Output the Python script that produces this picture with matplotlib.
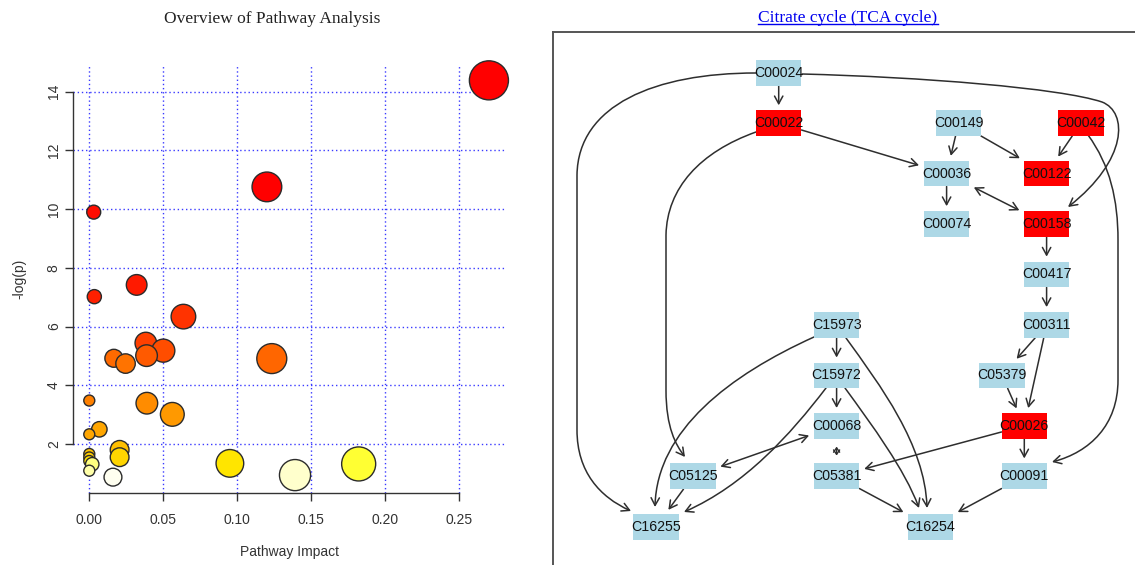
import numpy as np
import matplotlib
matplotlib.use("Agg")
import matplotlib.pyplot as plt
from matplotlib.path import Path
from matplotlib.patches import FancyArrowPatch, Rectangle
from matplotlib.lines import Line2D
from matplotlib.transforms import IdentityTransform

# ---------------- data: pathway overview (left panel) ----------------
impact = [0.270, 0.120, 0.003, 0.032, 0.0034, 0.0636, 0.0382, 0.050, 0.0387, 0.1233,
          0.0166, 0.0245, 0.000, 0.0389, 0.0561, 0.0068, 0.000, 0.0205, 0.000, 0.000,
          0.0205, 0.000, 0.095, 0.182, 0.002, 0.000, 0.139, 0.016]
neglogp = [14.39, 10.76, 9.90, 7.42, 7.02, 6.34, 5.44, 5.18, 5.01, 4.91,
           4.92, 4.74, 3.48, 3.39, 3.01, 2.50, 2.33, 1.80, 1.66, 1.54,
           1.55, 1.42, 1.34, 1.32, 1.31, 1.09, 0.94, 0.87]
x_ticks = [0.00, 0.05, 0.10, 0.15, 0.20, 0.25]
x_tick_labels = ["0.00", "0.05", "0.10", "0.15", "0.20", "0.25"]
y_ticks = [2, 4, 6, 8, 10, 12, 14]
y_tick_labels = ["2", "4", "6", "8", "10", "12", "14"]

# colour of each bubble (heat colours by p-value)
bubble_colors = ["#ff0000", "#ff0000", "#ff0d00", "#ff1a00", "#ff2000", "#ff3300", "#ff4000",
                 "#ff4d00", "#ff5a00", "#ff6600", "#ff6a00", "#ff7300", "#ff8000", "#ff8c00",
                 "#ff9900", "#ffa600", "#ffa600", "#ffbf00", "#ffc400", "#ffcc00", "#ffd500",
                 "#ffdd00", "#ffe500", "#ffff33", "#ffff80", "#ffffa8", "#ffffcc", "#fffff0"]

# ---------------- data: TCA cycle network (right panel) ----------------
nodes = ["C00024", "C00022", "C00149", "C00042", "C00036", "C00122", "C00074", "C00158",
         "C00417", "C15973", "C00311", "C15972", "C05379", "C00068", "C00026", "C05125",
         "C05381", "C00091", "C16255", "C16254"]
hit_nodes = ["C00022", "C00042", "C00122", "C00158", "C00026"]
straight_edges = [("C00024", "C00022"), ("C00022", "C00036"), ("C00149", "C00036"),
                  ("C00149", "C00122"), ("C00042", "C00122"), ("C00036", "C00074"),
                  ("C00158", "C00417"), ("C00417", "C00311"), ("C00311", "C05379"),
                  ("C00311", "C00026"), ("C05379", "C00026"), ("C00026", "C00091"),
                  ("C00026", "C05381"), ("C15973", "C15972"), ("C15972", "C00068"),
                  ("C05125", "C16255"), ("C05381", "C16254"), ("C00091", "C16254")]
double_edges = [("C00036", "C00158"), ("C00068", "C05125"), ("C00068", "C05381")]
curved_edges = [("C00024", "C16255"), ("C00022", "C05125"), ("C15973", "C16255"),
                ("C15973", "C16254"), ("C15972", "C16254"), ("C15972", "C16255"),
                ("C00042", "C00091"), ("C00024", "C00158")]

# ---------------- layout (graph drawing coordinates, pixel-like) ----------------
row = lambda k: 72.7 + 50.45 * k
layout = {
    "C00024": (778.7, row(0)), "C00022": (778.7, row(1)), "C00149": (958.6, row(1)),
    "C00042": (1081.0, row(1)), "C00036": (946.6, row(2)), "C00122": (1046.6, row(2)),
    "C00074": (946.6, row(3)), "C00158": (1046.6, row(3)), "C00417": (1046.6, row(4)),
    "C15973": (836.6, row(5)), "C00311": (1046.6, row(5)), "C15972": (836.6, row(6)),
    "C05379": (1001.9, row(6)), "C00068": (836.6, row(7)), "C00026": (1024.3, row(7)),
    "C05125": (692.9, row(8)), "C05381": (836.6, row(8)), "C00091": (1024.3, row(8)),
    "C16255": (656.0, row(9)), "C16254": (930.6, row(9)),
}
routes = {
    ("C00024", "C16255"): [(756, 73), [(655, 73), (578, 105), (577, 175)], [(577, 430)],
                           [(577, 472), (600, 497), (631, 511)]],
    ("C00022", "C05125"): [(756, 132), [(700, 152), (667, 188), (666, 235)], [(666, 390)],
                           [(666, 428), (676, 445), (685, 457)]],
    ("C15973", "C16255"): [(814, 337), [(730, 375), (657, 430), (655, 507)]],
    ("C15973", "C16254"): [(846, 338), [(880, 385), (925, 445), (927, 508)]],
    ("C15972", "C16254"): [(845, 388), [(872, 425), (905, 470), (919, 508)]],
    ("C15972", "C16255"): [(826, 388), [(790, 435), (745, 485), (684, 512)]],
    ("C00042", "C00091"): [(1088, 135), [(1110, 165), (1118, 200), (1118, 240)], [(1118, 380)],
                           [(1118, 425), (1090, 452), (1052, 462)]],
    ("C00024", "C00158"): [(802, 74), [(920, 77), (1060, 88), (1102, 102)],
                           [(1128, 112), (1128, 160), (1068, 207)]],
}
BOX_W, BOX_H = 45.5, 25.7
EDGE_COLOR = "#2e2e2e"
ARROW = "->,head_length=5.5,head_width=3"
DARROW = "<->,head_length=5.5,head_width=3"

# ---------------- figure ----------------
W, H = 1135, 565
fig = plt.figure(figsize=(W / 100, H / 100), dpi=100)
fig.patch.set_facecolor("white")
SANS = ["Liberation Sans", "DejaVu Sans"]
SERIF = ["Liberation Serif", "DejaVu Serif"]
TXT = "#333333"

# ---- left panel ----
L, R, T, B = 73.3, 504.9, 64.5, 493.0
ax = fig.add_axes([L / W, 1 - B / H, (R - L) / W, (B - T) / H])
ax.set_xlim(-0.0108, 0.2808)
ax.set_ylim(0.33, 14.93)
for xv in x_ticks:
    ax.axvline(xv, color="#3a3aff", lw=1.0, ls=(0, (1, 2)), zorder=1)
for yv in y_ticks:
    ax.axhline(yv, color="#3a3aff", lw=1.0, ls=(0, (1, 2)), zorder=1)

imp = np.array(impact)
nlp = np.array(neglogp)
cols = np.array(bubble_colors)
r_px = 5.5 + 27.0 * np.sqrt(imp)
sizes = (2 * r_px * 0.72) ** 2
order = np.argsort(-nlp, kind="stable")
ax.scatter(imp[order], nlp[order], s=sizes[order], c=cols[order],
           edgecolors="#2b2b2b", linewidths=1.0, zorder=3, clip_on=False)

for side in ["top", "right"]:
    ax.spines[side].set_visible(False)
ax.spines["left"].set_bounds(2, 14)
ax.spines["bottom"].set_bounds(0, 0.25)
for side in ["left", "bottom"]:
    ax.spines[side].set_color("#333333")
    ax.spines[side].set_linewidth(1.0)
ax.set_xticks(x_ticks)
ax.set_xticklabels(x_tick_labels, fontfamily=SANS, fontsize=10, color=TXT)
ax.set_yticks(y_ticks)
ax.set_yticklabels(y_tick_labels, fontfamily=SANS, fontsize=10, color=TXT,
                   rotation=90, va="center", ha="right")
ax.tick_params(axis="both", direction="out", length=5.5, width=1.0, color="#333333")
ax.tick_params(axis="x", pad=9)
ax.tick_params(axis="y", pad=3.5)
ax.set_facecolor("none")

fig.text(272 / W, 1 - 19 / H, "Overview of Pathway Analysis", ha="center", va="center",
         fontfamily=SERIF, fontsize=12.5, color="#222222")
fig.text(19 / W, 1 - 279 / H, "-log(p)", rotation=90, ha="center", va="center",
         fontfamily=SANS, fontsize=10, color=TXT)
fig.text(289 / W, 1 - 552 / H, "Pathway Impact", ha="center", va="center",
         fontfamily=SANS, fontsize=10, color=TXT)

# ---- right panel ----
X0, Y0 = 553.0, 31.7
axn = fig.add_axes([X0 / W, 0, (W - X0) / W, (H - Y0) / H])
axn.set_xlim(X0, W)
axn.set_ylim(H, Y0)
axn.set_xticks([])
axn.set_yticks([])
for side in ["right", "bottom"]:
    axn.spines[side].set_visible(False)
for side in ["left", "top"]:
    axn.spines[side].set_color("#555555")
    axn.spines[side].set_linewidth(1.4)


def clip_pts(a, b, gap_start=0.0, gap_end=5.0):
    (x1, y1), (x2, y2) = layout[a], layout[b]
    dx, dy = x2 - x1, y2 - y1
    hw, hh = BOX_W / 2, BOX_H / 2
    tx = hw / abs(dx) if dx != 0 else np.inf
    ty = hh / abs(dy) if dy != 0 else np.inf
    t = min(tx, ty)
    length = np.hypot(dx, dy)
    ts = t + gap_start / length
    te = 1 - t - gap_end / length
    return (x1 + ts * dx, y1 + ts * dy), (x1 + te * dx, y1 + te * dy)


for a, b in straight_edges:
    p0, p1 = clip_pts(a, b)
    axn.add_patch(FancyArrowPatch(p0, p1, arrowstyle=ARROW, color=EDGE_COLOR, lw=1.1,
                                  shrinkA=0, shrinkB=0, mutation_scale=1, zorder=2))
for a, b in double_edges:
    if (a, b) == ("C00068", "C05381"):
        p0, p1 = clip_pts(a, b, gap_start=0.0, gap_end=0.0)
        mid = (p0[1] + p1[1]) / 2
        axn.add_patch(FancyArrowPatch((p0[0], mid - 4.5), (p0[0], mid + 4.5),
                                      arrowstyle="<->,head_length=3.2,head_width=2.2",
                                      color=EDGE_COLOR, lw=1.0, shrinkA=0, shrinkB=0,
                                      mutation_scale=1, zorder=2))
        continue
    p0, p1 = clip_pts(a, b, gap_start=5.0)
    axn.add_patch(FancyArrowPatch(p0, p1, arrowstyle=DARROW, color=EDGE_COLOR, lw=1.1,
                                  shrinkA=0, shrinkB=0, mutation_scale=1, zorder=2))

for key in curved_edges:
    spec = routes[key]
    verts = [spec[0]]
    codes = [Path.MOVETO]
    for seg in spec[1:]:
        if len(seg) == 3:
            verts += seg
            codes += [Path.CURVE4] * 3
        else:
            verts += seg
            codes += [Path.LINETO]
    axn.add_patch(FancyArrowPatch(path=Path(verts, codes), arrowstyle=ARROW,
                                  color=EDGE_COLOR, lw=1.1, mutation_scale=1, zorder=2))

for n in nodes:
    cx, cy = layout[n]
    fc = "#ff0000" if n in hit_nodes else "#add8e6"
    axn.add_patch(Rectangle((cx - BOX_W / 2, cy - BOX_H / 2), BOX_W, BOX_H,
                            facecolor=fc, edgecolor="none", zorder=3))
    axn.text(cx, cy, n, ha="center", va="center", fontfamily=SANS, fontsize=10.2,
             color="#111111", zorder=4)

title2 = fig.text(848 / W, 1 - 18 / H, "Citrate cycle (TCA cycle)", ha="center",
                  va="center", fontfamily=SERIF, fontsize=12.5, color="#0000ee")
fig.canvas.draw()
bb = title2.get_window_extent()
fig.add_artist(Line2D([bb.x0, bb.x1], [bb.y0 + 2.5, bb.y0 + 2.5], transform=IdentityTransform(),
                      color="#0000ee", lw=1.0))

fig.savefig("out.png", dpi=100)
